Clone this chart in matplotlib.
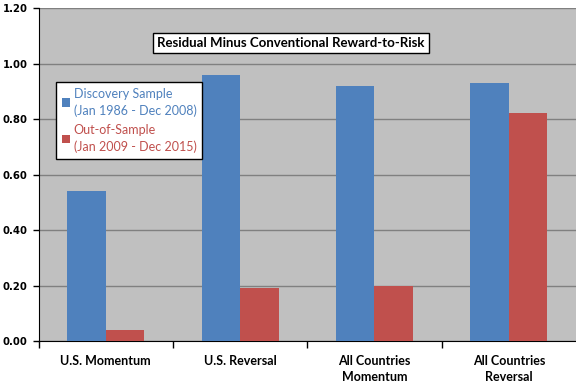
import matplotlib
matplotlib.use("Agg")
import matplotlib.pyplot as plt
import numpy as np
from matplotlib.ticker import FixedLocator

categories = ["U.S. Momentum", "U.S. Reversal", "All Countries\nMomentum", "All Countries\nReversal"]
discovery = [0.54, 0.96, 0.92, 0.93]
out_sample = [0.04, 0.19, 0.20, 0.82]
series_labels = ["Discovery Sample\n(Jan 1986 - Dec 2008)", "Out-of-Sample\n(Jan 2009 - Dec 2015)"]
title = "Residual Minus Conventional Reward-to-Risk"
yticks = [0.0, 0.2, 0.4, 0.6, 0.8, 1.0, 1.2]

blue = "#4F81BD"
red = "#C0504D"

fig = plt.figure(figsize=(5.76, 3.84), dpi=100)
ax = fig.add_axes([0.067, 0.112, 0.933, 0.867])
ax.set_facecolor("#C0C0C0")

x = np.arange(len(categories))
w = 0.287
ax.bar(x - w / 2, discovery, w, color=blue, zorder=3, label=series_labels[0])
ax.bar(x + w / 2, out_sample, w, color=red, zorder=3, label=series_labels[1])

ax.set_ylim(0, 1.2)
ax.set_xlim(-0.5, 3.5)
ax.set_yticks(yticks)
ax.set_yticklabels([f"{v:.2f}" for v in yticks], fontweight="bold", fontsize=7.3)
ax.yaxis.grid(True, color="#808080", linewidth=1.0, zorder=1)
ax.set_axisbelow(True)

ax.xaxis.set_major_locator(FixedLocator([-0.5, 0.5, 1.5, 2.5]))
ax.set_xticklabels([])
ax.xaxis.set_minor_locator(FixedLocator(x))
ax.set_xticklabels(categories, minor=True, fontweight="bold", fontsize=9, family="Lato",
                   linespacing=1.45)
ax.tick_params(axis="x", which="minor", length=0, pad=10)
ax.tick_params(axis="x", which="major", length=5, width=1, direction="out")
ax.tick_params(axis="y", length=4, width=1, direction="out", pad=4)

for s in ["top", "right"]:
    ax.spines[s].set_visible(False)
ax.spines["left"].set_color("black")
ax.spines["bottom"].set_color("black")

ax.text(0.470, 0.895, title, transform=ax.transAxes, ha="center", va="center",
        fontsize=9.5, fontweight="bold", family="Lato",
        bbox=dict(boxstyle="square,pad=0.3", facecolor="white", edgecolor="black", linewidth=1),
        zorder=5)

leg = ax.legend(loc="upper left", bbox_to_anchor=(0.033, 0.778), frameon=True, fancybox=False,
                edgecolor="black", facecolor="white", framealpha=1, handlelength=0.6,
                handleheight=0.6, handletextpad=0.35, borderpad=0.45, labelspacing=0.55,
                borderaxespad=0, prop={"family": "Lato", "size": 9})
leg.get_frame().set_linewidth(1)
for t, c in zip(leg.get_texts(), [blue, red]):
    t.set_color(c)
    t.set_linespacing(1.45)
for h in leg.legend_handles:
    h.set_height(6)
    h.set_width(6)

fig.savefig("out.png", dpi=100)
